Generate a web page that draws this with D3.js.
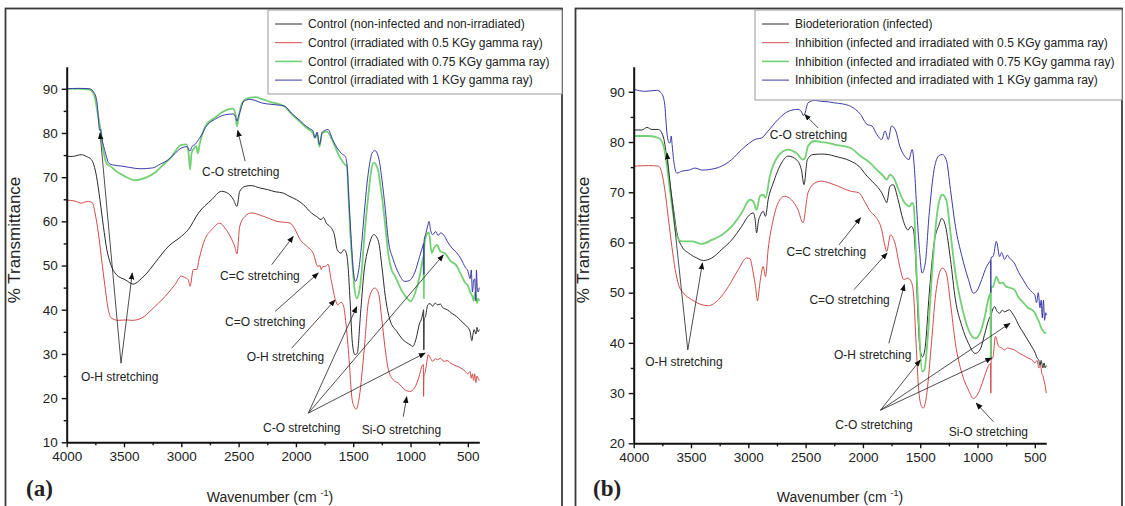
<!DOCTYPE html>
<html>
<head>
<meta charset="utf-8">
<script src="https://cdn.jsdelivr.net/npm/d3@7"></script>
<style>
  body { margin: 0; background: #fff; }
  text { fill: #222; }
</style>
</head>
<body>
<svg id="chart" width="1125" height="506"></svg>
<script>
// ---- data ----
var xMajor = [4000, 3500, 3000, 2500, 2000, 1500, 1000, 500];
var xMinor = [3750, 3250, 2750, 2250, 1750, 1250, 750];
var yMajorA = [10, 20, 30, 40, 50, 60, 70, 80, 90];
var yMinorA = [15, 25, 35, 45, 55, 65, 75, 85];
var yMajorB = [20, 30, 40, 50, 60, 70, 80, 90];
var yMinorB = [25, 35, 45, 55, 65, 75, 85];

var labelsA = [
    "Control (non-infected and non-irradiated)",
    "Control (irradiated with 0.5 KGy gamma ray)",
    "Control (irradiated with 0.75 KGy gamma ray)",
    "Control (irradiated with 1 KGy gamma ray)"
];
var labelsB = [
    "Biodeterioration (infected)",
    "Inhibition (infected and irradiated with 0.5 KGy gamma ray)",
    "Inhibition (infected and irradiated with 0.75 KGy gamma ray)",
    "Inhibition (infected and irradiated with 1 KGy gamma ray)"
];

// [wavenumber, %T]
var aBlack = [[4000,74.7],[3950,74.7],[3870,75.1],[3830,74.7],[3785,74],[3740,70.2],[3710,64.9],[3680,58.9],[3650,53.6],[3620,50.6],[3565,47.9],[3490,46.8],[3420,45.8],[3350,47],[3300,48.3],[3230,50.6],[3110,54.4],[3000,56.6],[2940,58.1],[2850,61.9],[2735,64.9],[2650,66.8],[2590,66.3],[2545,64.9],[2515,63.4],[2490,66.8],[2445,67.9],[2390,68.1],[2320,67.6],[2250,67.2],[2180,66.7],[2110,66.4],[2060,65.7],[1995,64.9],[1935,63.8],[1865,61.9],[1820,61.1],[1780,60.4],[1760,60.9],[1735,59.6],[1705,58.9],[1665,57],[1640,53.6],[1607,52.8],[1580,53.6],[1560,52.8],[1545,49.8],[1528,42.3],[1507,32.4],[1485,29.8],[1465,30.2],[1436,39.2],[1407,48.3],[1365,54.3],[1320,57],[1280,55.5],[1250,49.8],[1220,43],[1180,37.7],[1120,35.1],[1065,33.2],[1005,32.1],[980,31.7],[950,33.6],[920,37],[907,37.7],[890,39.5],[886,40],[884,30.9],[881,38],[870,38.4],[850,41.1],[830,41.4],[807,40.8],[785,41.5],[764,41.1],[740,41.3],[720,40.5],[680,40],[640,39.2],[600,38.5],[560,37.5],[520,36.5],[500,36],[480,35],[465,33],[455,34.5],[445,35.5],[430,34.5],[420,36],[410,35],[400,35.5]];
var aRed = [[4000,64.8],[3930,64.6],[3870,64.1],[3840,64.4],[3810,64.5],[3776,64.2],[3753,61.9],[3724,57.4],[3695,51.3],[3666,45.3],[3637,40],[3610,38.1],[3550,37.6],[3480,37.7],[3430,37.6],[3346,38.1],[3260,40],[3142,43],[3055,45.7],[3000,47.6],[2970,47.3],[2940,46.8],[2924,45.3],[2895,49.1],[2865,49.1],[2846,51.3],[2795,55.9],[2735,58.1],[2665,59.6],[2620,58.5],[2560,55.9],[2530,54],[2515,52.6],[2490,58.9],[2445,61.1],[2390,61.9],[2280,61.1],[2165,60],[2050,59.6],[2007,58.1],[1964,55.9],[1907,54.4],[1850,52.8],[1808,49.8],[1790,50],[1780,49.1],[1765,49.8],[1741,49.8],[1720,50.3],[1693,46.8],[1656,42.3],[1636,41.1],[1607,41.7],[1584,40.8],[1564,37],[1536,28.7],[1513,20.4],[1493,18.1],[1474,17.5],[1446,20.4],[1407,30.2],[1364,42.3],[1313,44.9],[1280,43.8],[1250,37.7],[1220,30.9],[1193,26.4],[1150,24.1],[1107,23.4],[1050,21.9],[1007,21.5],[965,22.3],[921,25.3],[901,27.2],[888,27.6],[886,20.4],[883,25],[873,25.7],[844,29.8],[825,29],[807,28.3],[785,28.9],[764,28.7],[740,29],[707,28.3],[680,28.5],[650,27.9],[620,27.5],[593,27.2],[560,26.8],[520,26],[500,25.5],[480,26],[470,24.5],[460,25.5],[450,24],[440,25.5],[430,23.5],[420,25],[410,24.5],[400,24]];
var aGreen = [[4000,90],[3900,90],[3800,89.8],[3760,88.5],[3740,86],[3720,83],[3700,80],[3680,76],[3650,73],[3620,72.5],[3560,71.2],[3500,70.3],[3400,69.3],[3300,70],[3230,71],[3170,72.5],[3090,74.5],[3000,77.3],[2955,77.4],[2935,75],[2924,71.7],[2910,75.5],[2895,76.3],[2870,77],[2855,75.4],[2840,77.5],[2820,79.5],[2790,81.5],[2700,83.6],[2650,84.6],[2550,85.5],[2530,84.5],[2515,81.5],[2500,83.5],[2480,86],[2460,87.2],[2400,88],[2350,88.1],[2300,87.7],[2220,87],[2100,86],[2040,84.4],[1960,82.4],[1900,81],[1850,80],[1835,78.9],[1815,79.8],[1795,76.9],[1770,80],[1730,80.3],[1680,78.2],[1640,75.8],[1600,73.8],[1570,72.8],[1555,72.5],[1540,65],[1525,57],[1505,49.8],[1490,45],[1470,42.6],[1450,43.8],[1425,49],[1405,55.9],[1380,63],[1360,67.9],[1340,72],[1320,73.3],[1300,72.8],[1280,71.2],[1265,68.5],[1250,65.7],[1220,58.9],[1195,52.8],[1165,49],[1135,47.6],[1080,44.5],[1020,42.3],[1000,41.9],[960,43.8],[920,47.6],[895,51.3],[887,52],[884,42.6],[881,54],[865,56.6],[840,57.5],[815,52.8],[795,54],[770,54.7],[740,53.2],[700,52.8],[650,51],[600,50],[560,48],[520,46],[500,45.5],[480,44],[460,43],[450,42],[435,44],[420,41.5],[410,42.5],[400,42]];
var aBlue = [[4000,90],[3900,90.1],[3800,90],[3760,89.1],[3735,86.8],[3712,80.6],[3705,80.9],[3697,79.3],[3670,76.3],[3630,73.1],[3600,72.8],[3520,72.5],[3450,72.2],[3360,71.9],[3250,72.1],[3180,73],[3110,74],[3050,75.5],[3000,76.6],[2950,76.9],[2925,75.9],[2905,77],[2880,77.4],[2850,78.5],[2820,79.7],[2790,81.2],[2700,83.2],[2600,84.2],[2545,84.3],[2525,83.5],[2515,82.7],[2500,83.8],[2480,85.5],[2455,87.2],[2400,87.6],[2350,87.3],[2300,86.8],[2220,86.5],[2150,86.3],[2100,86.1],[2040,84.5],[1960,82.7],[1910,81.5],[1880,81],[1850,80.4],[1835,78.9],[1815,80.2],[1795,77.4],[1770,80.2],[1745,80.6],[1720,80.8],[1680,78.5],[1640,76.6],[1600,75.3],[1570,74.7],[1555,73],[1540,66],[1520,57],[1500,49],[1480,46.4],[1455,48.5],[1430,54],[1405,61.5],[1380,68.5],[1360,72.5],[1335,75.5],[1310,76],[1285,75],[1265,72.5],[1250,69.5],[1220,62.7],[1195,56],[1150,51.3],[1105,48.3],[1050,46.4],[1010,46.6],[965,48.3],[920,52.1],[893,54.4],[886,55],[884,48],[882,55.5],[865,57.4],[850,59],[838,60],[825,58],[808,57],[780,57.7],[760,56.8],[736,57.4],[700,56.5],[680,55.5],[640,54],[600,53],[560,51.5],[520,49.5],[500,48.8],[480,47],[470,49],[460,44],[450,46.5],[440,47],[430,42],[425,49],[418,45],[410,44],[400,45]];

var bBlack = [[4000,82.4],[3928,82.4],[3884,82.9],[3841,82.5],[3783,82.5],[3739,80.8],[3710,76.5],[3681,71.2],[3652,66.5],[3623,61.9],[3580,59.2],[3522,57.9],[3450,56.9],[3392,56.4],[3319,56.9],[3232,58.6],[3145,60.5],[3058,63.2],[3001,65.2],[2957,65.9],[2940,64.5],[2928,61.9],[2910,64.5],[2899,65.2],[2870,66.2],[2850,65.2],[2827,68.5],[2783,71.8],[2711,75.8],[2653,77.2],[2581,76.5],[2537,74.5],[2514,71.5],[2485,76.5],[2436,77.5],[2363,77.6],[2300,77.5],[2250,77.2],[2107,76.2],[2036,75.2],[1964,73.2],[1921,72.2],[1879,71.2],[1836,69.9],[1807,68.5],[1793,67.9],[1764,71.2],[1736,71.5],[1693,68.5],[1650,64.5],[1607,62.5],[1579,63.2],[1559,62.5],[1541,57.2],[1521,45.9],[1501,38.6],[1479,37.2],[1456,39.3],[1421,49.9],[1379,59.9],[1336,63.5],[1313,64.8],[1279,63.2],[1236,56.6],[1193,48.6],[1136,43.3],[1079,39.9],[1021,37.9],[979,38.6],[936,41.9],[907,44.3],[887,45.3],[884,37],[881,45.5],[850,47.2],[835,46.5],[807,45.9],[785,46.5],[764,46.2],[721,46.6],[700,46],[679,45.3],[640,43.5],[600,42],[560,40.5],[520,39],[500,38.2],[480,37],[465,36.5],[455,35.5],[445,36.5],[430,35],[420,36],[410,35],[400,35.5]];
var bRed = [[4000,75.2],[3870,75.3],[3783,75.2],[3754,73.8],[3725,69.9],[3696,64.5],[3667,59.2],[3638,54.6],[3609,51.6],[3565,49.9],[3493,48.6],[3406,47.6],[3348,47.4],[3261,48.6],[3174,51.2],[3087,54.6],[3015,56.9],[2986,56.8],[2957,53.9],[2937,51.2],[2920,48.4],[2899,51.9],[2870,55.2],[2850,53.2],[2827,58.6],[2783,64.5],[2740,67.9],[2682,69.2],[2624,68.5],[2566,66.5],[2523,63.9],[2479,69.9],[2421,71.8],[2363,72.2],[2250,71.5],[2107,70.2],[2036,69.9],[1979,67.9],[1936,66.2],[1893,65.2],[1836,62.5],[1807,59.2],[1793,58.2],[1759,61.5],[1721,59.9],[1679,55.2],[1644,52.6],[1607,52.9],[1579,52.2],[1559,49.9],[1536,39.9],[1513,30.6],[1493,27.6],[1474,27],[1446,29.3],[1407,38.6],[1364,49.9],[1321,54.6],[1307,54.9],[1273,53.9],[1236,47.9],[1193,39.9],[1136,33.9],[1079,30.6],[1036,28.9],[993,30],[950,32.6],[907,35.3],[887,35.9],[884,30],[881,36.5],[864,37.3],[844,41.3],[816,39.3],[790,39],[764,38.6],[740,39],[721,38.9],[679,38.6],[640,38],[600,37.5],[560,37],[520,36.5],[500,36],[480,36.5],[465,35],[450,35.5],[440,34],[430,33.5],[420,32.5],[410,31.5],[400,30]];
var bGreen = [[4000,81.2],[3870,81.2],[3783,80.8],[3739,79.2],[3710,75.2],[3681,69.9],[3652,65.2],[3623,61.2],[3580,60.2],[3493,60.2],[3406,59.7],[3319,60.5],[3232,61.5],[3145,63.2],[3058,65.9],[2986,68.5],[2957,68.2],[2928,66.5],[2899,69.2],[2870,69.5],[2850,68.9],[2812,73.2],[2740,77.2],[2653,78.5],[2581,77.8],[2523,76.5],[2505,76.8],[2479,79.2],[2421,80.2],[2363,80],[2300,79.8],[2250,79.5],[2107,78.8],[2021,77.2],[1936,75.8],[1879,74.5],[1821,73.2],[1793,72.5],[1764,73.5],[1730,72.8],[1679,69.9],[1636,67.9],[1593,67.2],[1570,67.9],[1556,67.2],[1536,56.6],[1513,44.6],[1484,34.3],[1464,34.6],[1436,40.6],[1399,53.2],[1359,64.5],[1321,69.2],[1307,69.5],[1273,68.5],[1236,61.9],[1193,53.9],[1136,47.2],[1079,42.6],[1021,40.9],[979,41.9],[936,45.3],[907,48.6],[887,49.9],[885,37],[883,51],[864,51.2],[836,53.2],[807,51.9],[780,52],[750,51.2],[720,51],[679,50.6],[640,49],[600,48],[560,47],[520,46.5],[500,46],[480,45],[460,44],[445,43],[430,42.5],[415,42],[400,42]];
var bBlue = [[4000,90.5],[3900,90.1],[3800,90.3],[3760,89.8],[3731,87.8],[3710,81.8],[3690,79.8],[3680,80],[3673,81.2],[3665,79.5],[3652,76.5],[3623,73.8],[3580,74.2],[3520,74.4],[3464,74.8],[3400,74.4],[3348,74.5],[3232,75.2],[3145,76.5],[3058,78.5],[2990,79.8],[2943,80.5],[2885,80.8],[2827,82.2],[2740,84.5],[2653,86.1],[2566,86.5],[2535,86],[2523,85.3],[2510,85.5],[2479,87.8],[2420,88.3],[2363,88.1],[2300,88],[2250,87.8],[2180,87.6],[2107,87.1],[2021,85.5],[1964,83.5],[1921,83.2],[1879,81.5],[1836,80.5],[1807,82.2],[1779,80.5],[1750,83.2],[1713,82.2],[1679,79.2],[1636,77.2],[1599,76.5],[1570,78.5],[1550,74.5],[1530,66.5],[1507,58.6],[1484,53.9],[1456,55.9],[1421,65.9],[1379,74.5],[1336,77.3],[1307,77.5],[1273,76.5],[1236,70.5],[1193,63.2],[1136,57.2],[1079,52.6],[1036,49.9],[1007,50.3],[964,52.6],[921,55.2],[893,56.2],[886,56.5],[884,50],[882,57],[864,57.2],[836,60.2],[807,57.2],[790,58],[764,56.6],[740,57.5],[721,56.9],[679,55.9],[640,54],[600,52.5],[560,51],[520,50],[500,49.5],[485,48],[470,50],[455,47],[445,48.5],[435,45],[425,48.5],[415,44.5],[405,46],[400,45.5]];

// annotation anchors, in data units: text start, arrow tail, arrow heads
var notesA = [
    { text: "C-O stretching", at: [2819, 70.2], from: [2443, 73.6], to: [[2508, 80.6]] },
    { text: "O-H stretching", at: [3875, 23.9], from: [3526, 27.9], to: [[3709, 80.0], [3428, 48.3]] },
    { text: "C=C stretching", at: [2662, 46.8], from: [2211, 50.2], to: [[2023, 56.6]] },
    { text: "C=O stretching", at: [2618, 36.4], from: [2182, 39.6], to: [[1805, 48.3]] },
    { text: "O-H stretching", at: [2429, 28.4], from: [2037, 31.3], to: [[1659, 42.2]] },
    { text: "C-O stretching", at: [2287, 12.3], from: [1892, 16.6], to: [[1469, 40.7], [714, 52.4], [873, 30.2]] },
    { text: "Si-O stretching", at: [1426, 11.8], from: [1063, 15.8], to: [[1033, 20.3]] }
];
var notesB = [
    { text: "O-H stretching", at: [3899, 35.4], from: [3528, 38.6], to: [[3710, 77.8], [3400, 55.9]] },
    { text: "C-O stretching", at: [2812, 80.6], from: [2391, 82.8], to: [[2508, 85.5]] },
    { text: "C=C stretching", at: [2667, 57.4], from: [2209, 59.5], to: [[2021, 64.9]] },
    { text: "C=O stretching", at: [2467, 47.8], from: [2078, 50.6], to: [[1789, 57.9]] },
    { text: "O-H stretching", at: [2252, 36.8], from: [1774, 39.9], to: [[1638, 51.6]] },
    { text: "C-O stretching", at: [2241, 22.9], from: [1847, 26.6], to: [[1499, 36.6], [717, 43.9], [876, 37.0]] },
    { text: "Si-O stretching", at: [1252, 21.5], from: [861, 24.3], to: [[1012, 28.0]] }
];

var colors = ["#2a2a2a", "#d24a4a", "#74d074", "#3b3ba8"];
var widths = [1, 1, 1.8, 1];
var sans = "'Liberation Sans', Arial, sans-serif";

var svg = d3.select("#chart");

svg.append("defs").append("marker")
    .attr("id", "arrow")
    .attr("viewBox", "0 0 10 10")
    .attr("refX", 9)
    .attr("refY", 5)
    .attr("markerWidth", 7)
    .attr("markerHeight", 7)
    .attr("markerUnits", "userSpaceOnUse")
    .attr("orient", "auto")
    .append("path")
    .attr("d", "M0,1L10,5L0,9z")
    .attr("fill", "#111");

function drawPanel(p) {
    var g = svg.append("g").style("font-family", sans);

    // outer frame
    g.append("rect")
        .attr("x", p.frame[0]).attr("y", p.frame[1])
        .attr("width", p.frame[2]).attr("height", p.frame[3])
        .attr("fill", "none")
        .attr("stroke", "#3a3a3a")
        .attr("stroke-width", 1.8);

    var x = d3.scaleLinear().domain([4000, 400]).range([p.left, p.right]);
    var y = d3.scaleLinear().domain(p.yDomain).range([p.bottom, p.top]);

    var line = d3.line()
        .x(function(d) { return x(d[0]); })
        .y(function(d) { return y(d[1]); })
        .curve(d3.curveMonotoneX);

    p.series.forEach(function(s, i) {
        g.append("path")
            .attr("d", line(s))
            .attr("fill", "none")
            .attr("stroke", colors[i])
            .attr("stroke-width", widths[i])
            .attr("stroke-linejoin", "round");
    });

    // axes (Origin style, ticks outside)
    g.append("g")
        .attr("transform", "translate(0," + p.bottom + ")")
        .call(d3.axisBottom(x).tickValues(xMajor).tickFormat(d3.format("d"))
            .tickSize(5).tickSizeOuter(0).tickPadding(4));
    g.append("g")
        .attr("transform", "translate(0," + p.bottom + ")")
        .call(d3.axisBottom(x).tickValues(xMinor).tickSize(3).tickFormat(""))
        .select(".domain").remove();
    g.append("g")
        .attr("transform", "translate(" + p.left + ",0)")
        .call(d3.axisLeft(y).tickValues(p.yMajor).tickFormat(d3.format("d"))
            .tickSize(5).tickSizeOuter(0).tickPadding(4));
    g.append("g")
        .attr("transform", "translate(" + p.left + ",0)")
        .call(d3.axisLeft(y).tickValues(p.yMinor).tickSize(3).tickFormat(""))
        .select(".domain").remove();

    g.selectAll(".domain").attr("stroke", "#111").attr("stroke-width", 2);
    g.selectAll(".tick line").attr("stroke", "#111").attr("stroke-width", 1.4);
    g.selectAll(".tick text")
        .style("font-family", sans)
        .attr("font-size", 13.5)
        .attr("fill", "#222");

    // annotations
    p.notes.forEach(function(n) {
        g.append("text")
            .attr("x", x(n.at[0]))
            .attr("y", y(n.at[1]))
            .attr("font-size", 12)
            .text(n.text);
        n.to.forEach(function(t) {
            g.append("line")
                .attr("x1", x(n.from[0])).attr("y1", y(n.from[1]))
                .attr("x2", x(t[0])).attr("y2", y(t[1]))
                .attr("stroke", "#222")
                .attr("stroke-width", 0.8)
                .attr("marker-end", "url(#arrow)");
        });
    });

    // legend
    var lg = g.append("g");
    lg.append("rect")
        .attr("x", p.legend[0]).attr("y", p.legend[1])
        .attr("width", p.legend[2]).attr("height", p.legend[3])
        .attr("fill", "#fff")
        .attr("stroke", "#9a9a9a")
        .attr("stroke-width", 1);
    p.labels.forEach(function(l, i) {
        var cy = p.legend[1] + 14 + i * 18.7;
        lg.append("line")
            .attr("x1", p.legend[0] + 7).attr("x2", p.legend[0] + 34)
            .attr("y1", cy).attr("y2", cy)
            .attr("stroke", colors[i])
            .attr("stroke-width", i === 2 ? 1.6 : 1);
        lg.append("text")
            .attr("x", p.legend[0] + 40)
            .attr("y", cy + 4.3)
            .attr("font-size", 12)
            .text(l);
    });

    // axis titles
    var xt = g.append("text")
        .attr("x", p.xTitle[0]).attr("y", p.xTitle[1])
        .attr("text-anchor", "middle")
        .attr("font-size", 14);
    xt.append("tspan").text("Wavenumber (cm ");
    xt.append("tspan").attr("dy", -6).attr("font-size", 9).text("-1");
    xt.append("tspan").attr("dy", 6).text(")");

    g.append("text")
        .attr("transform", "translate(" + p.yTitle[0] + "," + p.yTitle[1] + ") rotate(-90)")
        .attr("text-anchor", "middle")
        .attr("font-size", 17)
        .text("% Transmittance");

    g.append("text")
        .attr("x", p.tag[0]).attr("y", p.tag[1])
        .style("font-family", "'Liberation Serif', 'Times New Roman', serif")
        .attr("font-weight", "bold")
        .attr("font-size", 23)
        .text(p.tagText);
}

drawPanel({
    frame: [5.5, 8.5, 556.5, 510],
    left: 66.7, right: 479.3, top: 66.7, bottom: 442.3,
    yDomain: [10, 95], yMajor: yMajorA, yMinor: yMinorA,
    series: [aBlack, aRed, aGreen, aBlue],
    notes: notesA,
    labels: labelsA,
    legend: [268, 10, 294, 84],
    xTitle: [270, 502], yTitle: [20, 240],
    tag: [26, 496], tagText: "(a)"
});

drawPanel({
    frame: [575.5, 8.5, 546.5, 510],
    left: 633.7, right: 1046.3, top: 66.7, bottom: 443.3,
    yDomain: [20, 95], yMajor: yMajorB, yMinor: yMinorB,
    series: [bBlack, bRed, bGreen, bBlue],
    notes: notesB,
    labels: labelsB,
    legend: [755, 10, 367, 90],
    xTitle: [840, 502], yTitle: [589, 240],
    tag: [593, 496], tagText: "(b)"
});
</script>
</body>
</html>
